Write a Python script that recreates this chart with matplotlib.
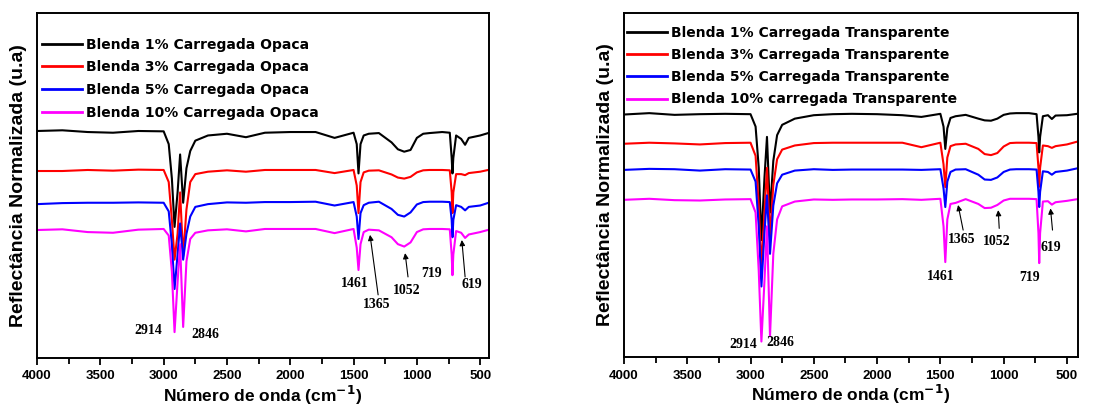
import matplotlib.pyplot as plt
from matplotlib.ticker import MultipleLocator

# =========================
# DATA (arbitrary reflectance units, 0 = axis bottom)
# =========================
wn = [4000, 3800, 3600, 3400, 3200, 3000, 2960, 2935, 2914, 2890, 2870, 2846,
      2820, 2790, 2750, 2650, 2500, 2350, 2200, 2000, 1800, 1650, 1500, 1475,
      1461, 1445, 1420, 1380, 1300, 1200, 1150, 1100, 1050, 1000, 950, 900,
      800, 740, 725, 719, 712, 690, 650, 619, 590, 500, 400]

# left panel: "Carregada Opaca"
opaca_1 = [65.8, 66.0, 65.5, 65.3, 65.8, 65.7, 62.0, 52.0, 38.0, 48.0, 59.0, 45.0,
           55.0, 60.0, 63.0, 64.5, 65.0, 64.0, 65.3, 65.5, 65.5, 63.8, 65.3, 62.0,
           53.5, 62.0, 64.5, 65.0, 65.2, 62.5, 60.5, 59.8, 60.3, 63.8, 65.0, 65.2,
           65.5, 65.3, 58.0, 53.5, 58.0, 64.5, 63.5, 61.8, 63.8, 64.5, 65.6]
opaca_3 = [54.2, 54.2, 54.5, 54.3, 54.6, 54.5, 51.0, 40.0, 28.5, 36.0, 48.0, 29.5,
           43.0, 51.0, 53.3, 54.0, 54.4, 54.0, 54.5, 54.5, 54.5, 53.6, 54.5, 50.0,
           42.0, 51.0, 53.8, 54.3, 54.4, 53.2, 52.3, 52.0, 52.5, 53.8, 54.4, 54.5,
           54.5, 54.4, 48.0, 42.0, 48.0, 53.3, 53.3, 53.0, 53.6, 54.0, 54.8]
opaca_5 = [44.6, 44.9, 45.0, 45.0, 45.1, 45.0, 42.5, 33.0, 20.0, 30.0, 39.0, 28.5,
           36.0, 41.0, 43.8, 44.6, 45.1, 45.0, 45.2, 45.2, 45.3, 44.2, 45.2, 41.0,
           34.5, 42.0, 44.3, 45.0, 45.3, 43.2, 41.5, 41.0, 42.2, 44.5, 45.2, 45.3,
           45.3, 45.2, 40.0, 35.0, 40.0, 44.3, 43.8, 42.8, 43.8, 44.2, 45.4]
opaca_10 = [37.1, 37.3, 36.5, 36.3, 37.2, 37.4, 35.5, 25.0, 7.5, 22.0, 33.0, 9.0,
            28.0, 34.5, 36.3, 37.0, 37.3, 36.7, 37.4, 37.4, 37.4, 36.2, 37.4, 32.0,
            25.5, 33.0, 36.5, 37.2, 37.0, 35.0, 33.0, 32.3, 33.5, 36.5, 37.3, 37.4,
            37.4, 37.3, 30.0, 24.0, 30.0, 36.8, 36.3, 34.8, 35.8, 36.5, 37.5]

# right panel: "Carregada Transparente"
transp_1 = [70.5, 70.9, 70.4, 70.6, 70.7, 70.6, 67.0, 55.0, 34.0, 52.0, 64.0, 42.0,
            57.0, 64.5, 67.5, 69.3, 70.3, 70.6, 70.7, 70.6, 70.3, 69.8, 70.7, 67.0,
            60.5, 66.5, 69.5, 70.0, 70.4, 69.3, 68.8, 68.7, 69.3, 70.4, 70.8, 70.9,
            70.9, 70.6, 64.0, 59.5, 64.0, 70.0, 70.3, 69.2, 70.2, 70.3, 70.8]
transp_3 = [62.0, 62.3, 62.1, 61.8, 62.2, 62.3, 58.5, 44.0, 26.0, 42.0, 55.0, 35.0,
            50.0, 57.5, 60.3, 61.5, 62.2, 62.3, 62.3, 62.3, 62.3, 61.0, 62.3, 56.0,
            49.4, 58.0, 61.3, 61.8, 62.0, 60.5, 59.0, 58.7, 59.3, 61.2, 62.2, 62.3,
            62.3, 62.2, 55.0, 49.5, 55.0, 61.5, 61.3, 60.8, 61.3, 61.8, 62.8]
transp_5 = [54.4, 54.7, 54.6, 54.2, 54.6, 54.5, 51.0, 38.0, 20.5, 36.0, 47.0, 30.0,
            44.0, 50.5, 53.0, 54.2, 54.6, 54.4, 54.5, 54.5, 54.5, 54.4, 54.6, 49.0,
            43.6, 51.0, 53.8, 54.5, 54.6, 53.0, 51.6, 51.5, 52.2, 53.8, 54.5, 54.6,
            54.6, 54.5, 48.0, 43.6, 48.0, 54.0, 53.8, 53.0, 53.8, 54.2, 55.0]
transp_10 = [45.7, 46.0, 45.6, 45.5, 45.8, 45.9, 42.0, 25.0, 4.5, 22.0, 38.0, 6.0,
             30.0, 40.0, 43.8, 45.2, 45.8, 45.7, 45.8, 45.8, 45.9, 45.7, 46.0, 38.0,
             27.6, 40.0, 44.5, 44.8, 45.9, 44.5, 43.3, 43.4, 44.2, 45.5, 46.0, 46.0,
             46.0, 45.9, 36.0, 27.3, 36.0, 45.2, 45.3, 44.3, 45.0, 45.4, 46.0]

labels_opaca = ["Blenda 1% Carregada Opaca", "Blenda 3% Carregada Opaca",
                "Blenda 5% Carregada Opaca", "Blenda 10% Carregada Opaca"]
labels_transp = ["Blenda 1% Carregada Transparente", "Blenda 3% Carregada Transparente",
                 "Blenda 5% Carregada Transparente", "Blenda 10% carregada Transparente"]
colors = ["black", "red", "blue", "magenta"]

# peak labels: (text, x, y, arrow tail, arrow head)
peaks_opaca = [("2914", 3123, 8.1, None, None),
               ("2846", 2673, 6.7, None, None),
               ("1461", 1488, 21.7, None, None),
               ("1365", 1317, 15.4, (1306, 18.3), (1370, 35.7)),
               ("1052", 1080, 19.7, (1070, 23.5), (1093, 30.4)),
               ("719", 882, 24.6, None, None),
               ("619", 566, 21.4, (619, 23.5), (645, 34.2))]
peaks_transp = [("2914", 3058, 3.5, None, None),
                ("2846", 2762, 4.1, None, None),
                ("1461", 1496, 23.3, None, None),
                ("1365", 1333, 34.2, (1320, 36.9), (1360, 44.2)),
                ("1052", 1056, 33.7, (1035, 37.4), (1043, 42.7)),
                ("719", 793, 23.0, None, None),
                ("619", 630, 31.7, (614, 36.9), (630, 43.2))]

# =========================
# PLOT
# =========================
plt.rcParams["font.family"] = ["Liberation Sans", "DejaVu Sans"]
plt.rcParams["font.weight"] = "bold"
plt.rcParams["mathtext.default"] = "bf"

fig = plt.figure(figsize=(11.16, 4.09), dpi=100)
ax1 = fig.add_axes([0.0332, 0.1247, 0.405, 0.8435])
ax2 = fig.add_axes([0.5591, 0.1271, 0.4068, 0.841])

panels = [
    (ax1, [opaca_1, opaca_3, opaca_5, opaca_10], labels_opaca, peaks_opaca, 430,
     (-0.008, 0.953), 0.63),
    (ax2, [transp_1, transp_3, transp_5, transp_10], labels_transp, peaks_transp, 413,
     (-0.012, 0.986), 0.58),
]

for ax, series, labels, peaks, xmin, anchor, spacing in panels:
    for ys, c, lab in zip(series, colors, labels):
        ax.plot(wn, ys, color=c, lw=1.5, label=lab)

    for txt, x, y, tail, head in peaks:
        ax.text(x, y, txt, ha="center", va="center", fontsize=10,
                family="Liberation Serif", fontweight="bold")
        if tail is not None:
            ax.annotate("", xy=head, xytext=tail,
                        arrowprops=dict(arrowstyle="-|>", color="black", lw=0.8,
                                        mutation_scale=8, shrinkA=0, shrinkB=0))

    ax.set_xlim(4000, xmin)
    ax.set_ylim(0, 100)
    ax.set_yticks([])
    ax.xaxis.set_major_locator(MultipleLocator(500))
    ax.xaxis.set_minor_locator(MultipleLocator(250))
    ax.tick_params(axis="x", which="major", length=5, width=1.3, labelsize=9.5, pad=4)
    ax.tick_params(axis="x", which="minor", length=4, width=1.3)
    for lab in ax.get_xticklabels():
        lab.set_fontweight("bold")
    for sp in ax.spines.values():
        sp.set_linewidth(1.4)

    ax.set_xlabel("Número de onda (cm$^{-1}$)", fontsize=12.5,
                  fontweight="bold", labelpad=1)
    ax.set_ylabel("Reflectância Normalizada (u.a)", fontsize=14,
                  fontweight="bold", labelpad=7)

    leg = ax.legend(loc="upper left", bbox_to_anchor=anchor, frameon=False,
                    prop={"family": "DejaVu Sans", "weight": "bold", "size": 10},
                    handlelength=2.9, handletextpad=0.3, labelspacing=spacing,
                    borderaxespad=0.2)
    for line in leg.get_lines():
        line.set_linewidth(2)

fig.savefig("out.png", dpi=100)
